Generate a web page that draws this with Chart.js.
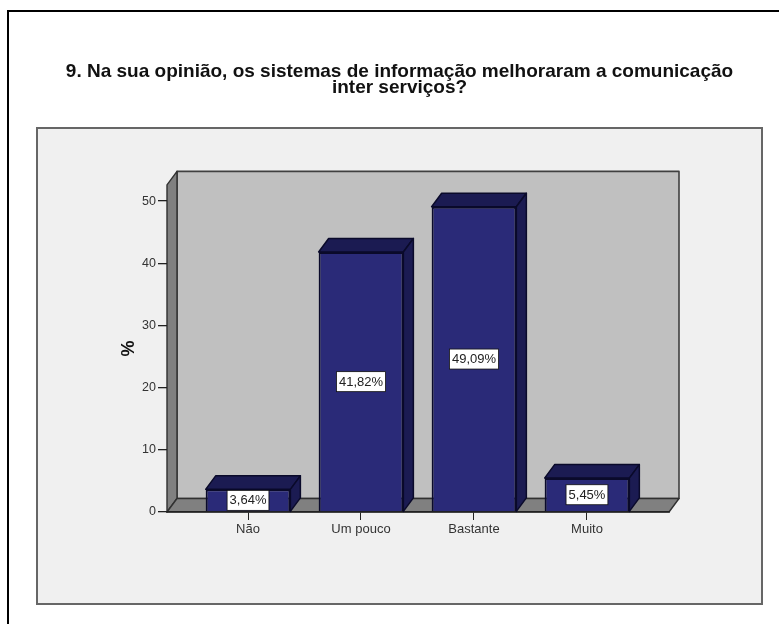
<!DOCTYPE html>
<html>
<head>
<meta charset="utf-8">
<script src="https://cdn.jsdelivr.net/npm/chart.js@4"></script>
<style>
html,body{margin:0;padding:0;background:#fff;width:779px;height:624px;overflow:hidden}
.fl{position:absolute;background:#000}
#panel{position:absolute;left:36px;top:127px;width:723px;height:474px;background:#f0f0f0;border:2px solid #666}
#c{position:absolute;left:20px;top:0}
</style>
</head>
<body>
<div class="fl" style="left:7px;top:10px;width:772px;height:2px"></div>
<div class="fl" style="left:7px;top:10px;width:2px;height:614px"></div>
<div id="panel"></div>
<canvas id="c" width="759" height="624"></canvas>
<script>
const categories = ["Não", "Um pouco", "Bastante", "Muito"];
const percentages = [3.64, 41.82, 49.09, 5.45];
const yTicks = [0, 10, 20, 30, 40, 50];
const titleLines = ["9. Na sua opinião, os sistemas de informação melhoraram a comunicação", "inter serviços?"];
const axisName = "%";

const FONT = '"Liberation Sans", Arial, sans-serif';
const DX = 10, DY = 13.5;
const TICK = '#222';

function poly(ctx, pts, fill, stroke, lw) {
  ctx.beginPath();
  pts.forEach((p, i) => i ? ctx.lineTo(p[0], p[1]) : ctx.moveTo(p[0], p[1]));
  ctx.closePath();
  ctx.fillStyle = fill;
  ctx.fill();
  if (stroke) { ctx.strokeStyle = stroke; ctx.lineWidth = lw; ctx.lineJoin = 'round'; ctx.stroke(); }
}

const box3d = {
  id: 'box3d',
  beforeDraw(chart) {
    const { ctx, chartArea: a } = chart;
    ctx.save();
    poly(ctx, [[a.left + DX, a.top - DY], [a.right + DX, a.top - DY], [a.right + DX, a.bottom - DY], [a.left + DX, a.bottom - DY]], '#c0c0c0', '#404040', 1.6);
    poly(ctx, [[a.left, a.top], [a.left + DX, a.top - DY], [a.left + DX, a.bottom - DY], [a.left, a.bottom]], '#808080', '#303030', 1.4);
    poly(ctx, [[a.left, a.bottom], [a.left + DX, a.bottom - DY], [a.right + DX, a.bottom - DY], [a.right, a.bottom]], '#808080', '#303030', 1.4);
    ctx.restore();
  },
  beforeDatasetsDraw(chart) {
    const { ctx } = chart;
    ctx.save();
    chart.getDatasetMeta(0).data.forEach(b => {
      const l = b.x - b.width / 2, r = b.x + b.width / 2;
      poly(ctx, [[l, b.y], [l + DX, b.y - DY], [r + DX, b.y - DY], [r, b.y]], '#1b1b52', '#0a0a2a', 1.5);
      poly(ctx, [[r, b.y], [r + DX, b.y - DY], [r + DX, b.base - DY], [r, b.base]], '#1b1b52', '#0a0a2a', 1.5);
    });
    ctx.restore();
  },
  afterDatasetsDraw(chart) {
    const { ctx } = chart;
    ctx.save();
    ctx.font = '13px ' + FONT;
    ctx.textAlign = 'center';
    ctx.textBaseline = 'middle';
    chart.getDatasetMeta(0).data.forEach((b, i) => {
      const txt = percentages[i].toFixed(2).replace('.', ',') + '%';
      const w = ctx.measureText(txt).width + 5, h = 20;
      const cy = (b.y + b.base) / 2;
      ctx.fillStyle = '#fff';
      ctx.strokeStyle = '#111';
      ctx.lineWidth = 0.8;
      ctx.fillRect(b.x - w / 2, cy - h / 2, w, h);
      ctx.strokeRect(b.x - w / 2, cy - h / 2, w, h);
      ctx.fillStyle = '#222';
      ctx.fillText(txt, b.x, cy + 0.5);
    });
    ctx.restore();
  }
};

new Chart(document.getElementById('c'), {
  type: 'bar',
  plugins: [box3d],
  data: {
    datasets: [{
      data: percentages.map((v, i) => ({ x: i, y: v })),
      backgroundColor: '#2a2a78',
      borderColor: '#0a0a2a',
      borderWidth: 2,
      barPercentage: 0.75,
      categoryPercentage: 1
    }]
  },
  options: {
    responsive: false,
    animation: false,
    events: [],
    layout: { padding: { left: 0, right: 0, top: 0, bottom: 82 } },
    plugins: {
      legend: { display: false },
      tooltip: { enabled: false },
      title: {
        display: true,
        text: titleLines,
        color: '#111',
        font: { family: FONT, size: 19, weight: 'bold', lineHeight: 0.84 },
        padding: { top: 64, bottom: 89 }
      }
    },
    scales: {
      x: {
        type: 'linear',
        offset: false,
        min: -0.717,
        max: 3.726,
        afterBuildTicks: s => { s.ticks = categories.map((_, i) => ({ value: i })); },
        afterFit: s => { s.height = 30; },
        grid: { offset: false, drawOnChartArea: false, drawTicks: true, tickLength: 8, color: TICK },
        border: { display: true, color: '#222', width: 1.5 },
        ticks: {
          autoSkip: false, maxRotation: 0, padding: 2, color: '#333',
          font: { family: FONT, size: 13 },
          callback: v => categories[v]
        }
      },
      y: {
        min: 0,
        max: 52.6,
        afterBuildTicks: s => { s.ticks = yTicks.map(v => ({ value: v })); },
        afterFit: s => { s.width = 147; },
        grid: { drawOnChartArea: false, drawTicks: true, tickLength: 9, color: TICK, lineWidth: 1.3 },
        border: { display: false },
        ticks: { padding: 2, color: '#333', font: { family: FONT, size: 12.5 } },
        title: {
          display: true, text: axisName, color: '#111',
          font: { family: FONT, size: 18, weight: 'bold' },
          padding: { top: 98, bottom: 0 }
        }
      },
      rightGap: {
        type: 'linear',
        position: 'right',
        afterFit: s => { s.width = 110; },
        grid: { display: false },
        border: { display: false },
        ticks: { display: false }
      }
    }
  }
});
</script>
</body>
</html>
